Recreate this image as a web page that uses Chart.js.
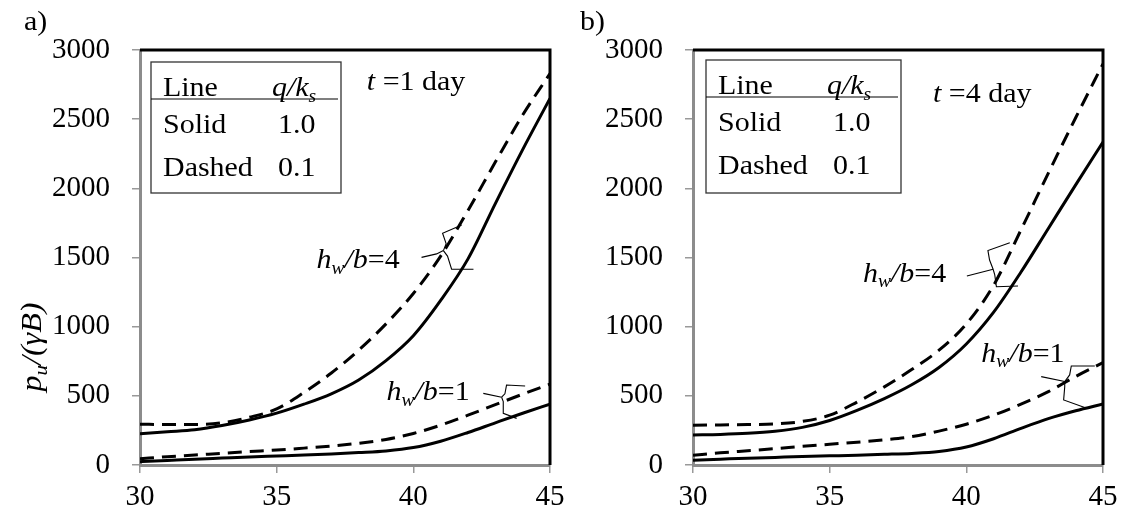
<!DOCTYPE html>
<html>
<head>
<meta charset="utf-8">
<script src="https://cdn.jsdelivr.net/npm/chart.js@4/dist/chart.umd.min.js"></script>
<style>
  html, body { margin: 0; padding: 0; background: #fff; }
  #wrap { position: relative; width: 1125px; height: 516px; overflow: hidden; }
  canvas { position: absolute; top: 0; }
  #cA { left: 0; }
  #cB { left: 562px; }
</style>
</head>
<body>
<div id="wrap">
  <canvas id="cA" width="580" height="516"></canvas>
  <canvas id="cB" width="563" height="516"></canvas>
</div>
<script>
// Shared abscissa and tick values
const xValues = [30, 31, 32, 33, 34, 35, 36, 37, 38, 39, 40, 41, 42, 43, 44, 45];
const xTicks = [30, 35, 40, 45];
const yTicks = [0, 500, 1000, 1500, 2000, 2500, 3000];

// Panel a) t = 1 day
const aSolid4  = [225, 240, 255, 285, 325, 375, 440, 515, 615, 755, 935, 1190, 1490, 1890, 2280, 2650];
const aDashed4 = [295, 292, 292, 305, 345, 405, 525, 665, 830, 1020, 1240, 1510, 1840, 2190, 2530, 2830];
const aSolid1  = [24, 33, 42, 50, 58, 65, 72, 80, 90, 102, 126, 172, 235, 305, 374, 440];
const aDashed1 = [45, 60, 72, 85, 97, 108, 122, 137, 157, 185, 228, 288, 360, 436, 512, 585];

// Panel b) t = 4 day
const bSolid4  = [217, 221, 229, 244, 272, 322, 395, 480, 580, 705, 875, 1105, 1395, 1710, 2025, 2335];
const bDashed4 = [288, 290, 292, 297, 315, 360, 455, 565, 690, 830, 1020, 1300, 1700, 2110, 2510, 2900];
const bSolid1  = [35, 42, 49, 55, 61, 66, 71, 77, 84, 98, 130, 190, 265, 335, 392, 441];
const bDashed1 = [70, 88, 103, 118, 135, 150, 165, 182, 205, 245, 295, 360, 440, 530, 640, 740];

const FONT = '"Liberation Serif", "Times New Roman", serif';
const FS = 28;      // annotation text size
const SX = 1.07;    // slight horizontal widening of annotation glyphs
const TICK_FS = 29;

function series(vals) {
  return xValues.map((x, i) => ({ x: x, y: vals[i] }));
}

function lineDs(vals, dashed) {
  return {
    data: series(vals),
    borderColor: '#000',
    borderWidth: 3,
    borderDash: dashed ? [14, 8] : [],
    pointRadius: 0,
    fill: false,
    cubicInterpolationMode: 'monotone'
  };
}

// Text runs with italic / subscript pieces, drawn from x along baseline y
function richWidth(ctx, parts, size) {
  let w = 0;
  for (const p of parts) {
    const s = p.sub ? size * 0.65 : size;
    ctx.font = (p.it ? 'italic ' : '') + s + 'px ' + FONT;
    w += ctx.measureText(p.t).width;
  }
  return w * SX;
}
function drawRich(ctx, parts, x, y, size) {
  ctx.save();
  ctx.translate(x, y);
  ctx.scale(SX, 1);
  let cx = 0;
  ctx.textAlign = 'left';
  ctx.textBaseline = 'alphabetic';
  ctx.fillStyle = '#000';
  for (const p of parts) {
    const s = p.sub ? size * 0.65 : size;
    ctx.font = (p.it ? 'italic ' : '') + s + 'px ' + FONT;
    ctx.fillText(p.t, cx, p.sub ? size * 0.2 : 0);
    cx += ctx.measureText(p.t).width;
  }
  ctx.restore();
}

function drawPath(ctx, xs, ys, pts) {
  ctx.beginPath();
  pts.forEach((p, i) => {
    const px = xs.getPixelForValue(p[0]);
    const py = ys.getPixelForValue(p[1]);
    if (i === 0) ctx.moveTo(px, py); else ctx.lineTo(px, py);
  });
  ctx.stroke();
}

const hw = (n) => [{ t: 'h', it: true }, { t: 'w', it: true, sub: true }, { t: '/b', it: true }, { t: '=' + n }];

function makePanel(canvasId, cfg) {
  const decor = {
    id: 'decor',
    afterDatasetsDraw(chart) {
      const ctx = chart.ctx;
      const a = chart.chartArea;
      const xs = chart.scales.x, ys = chart.scales.y;
      ctx.save();

      // top and right frame
      ctx.strokeStyle = '#000';
      ctx.lineWidth = 3;
      ctx.beginPath();
      ctx.moveTo(a.left, a.top);
      ctx.lineTo(a.right, a.top);
      ctx.lineTo(a.right, a.bottom);
      ctx.stroke();

      // panel letter
      drawRich(ctx, [{ t: cfg.letter }], cfg.letterX, 30, FS);

      // y axis title
      if (cfg.yTitle) {
        const parts = [{ t: 'p', it: true }, { t: 'u', it: true, sub: true }, { t: '/(\u03B3B)', it: true }];
        const ts = 30;
        const w = richWidth(ctx, parts, ts);
        ctx.save();
        ctx.translate(41, 347);
        ctx.rotate(-Math.PI / 2);
        drawRich(ctx, parts, -w / 2, 0, ts);
        ctx.restore();
      }

      // key table
      const bx = a.left + cfg.box[0], by = a.top + cfg.box[1], bw = cfg.box[2], bh = cfg.box[3];
      ctx.strokeStyle = '#333';
      ctx.lineWidth = 1.3;
      ctx.strokeRect(bx, by, bw, bh);
      ctx.strokeStyle = '#000';
      ctx.lineWidth = 1.2;
      ctx.beginPath();
      ctx.moveTo(bx, by + 37);
      ctx.lineTo(bx + bw - 3, by + 37);
      ctx.stroke();
      drawRich(ctx, [{ t: 'Line' }], bx + 12, by + 34, FS);
      drawRich(ctx, [{ t: 'q/k', it: true }, { t: 's', it: true, sub: true }], bx + 121, by + 34, FS);
      drawRich(ctx, [{ t: 'Solid' }], bx + 12, by + 71, FS);
      drawRich(ctx, [{ t: '1.0' }], bx + 127, by + 71, FS);
      drawRich(ctx, [{ t: 'Dashed' }], bx + 12, by + 114, FS);
      drawRich(ctx, [{ t: '0.1' }], bx + 127, by + 114, FS);

      // time label
      drawRich(ctx, [{ t: 't', it: true }, { t: ' =' + cfg.day + ' day' }],
        xs.getPixelForValue(cfg.timeAt[0]), ys.getPixelForValue(cfg.timeAt[1]), FS);

      // curve labels and their leader braces
      ctx.strokeStyle = '#000';
      ctx.lineWidth = 1.1;
      for (const lab of cfg.labels) {
        drawRich(ctx, hw(lab.n), xs.getPixelForValue(lab.at[0]), ys.getPixelForValue(lab.at[1]), FS);
        for (const path of lab.brace) drawPath(ctx, xs, ys, path);
      }
      ctx.restore();
    }
  };

  return new Chart(document.getElementById(canvasId), {
    type: 'line',
    data: {
      datasets: [
        lineDs(cfg.s4, false),
        lineDs(cfg.d4, true),
        lineDs(cfg.s1, false),
        lineDs(cfg.d1, true)
      ]
    },
    options: {
      responsive: false,
      animation: false,
      devicePixelRatio: 1,
      layout: { padding: { left: cfg.padLeft, right: cfg.padRight, top: 50, bottom: 0 } },
      plugins: { legend: { display: false }, tooltip: { enabled: false } },
      scales: {
        x: {
          type: 'linear',
          min: 30, max: 45,
          afterBuildTicks(s) { s.ticks = xTicks.map(v => ({ value: v })); },
          afterFit(s) { s.height = 51; s.paddingLeft = 0; s.paddingRight = 0; },
          ticks: { color: '#000', font: { family: FONT, size: TICK_FS }, padding: 7, maxRotation: 0,
                   callback: (v) => String(v) },
          grid: { drawOnChartArea: false, drawTicks: true, tickLength: 8, color: '#999', lineWidth: 1.5 },
          border: { color: '#8c8c8c', width: 3 }
        },
        y: {
          type: 'linear',
          min: 0, max: 3000,
          afterBuildTicks(s) { s.ticks = yTicks.map(v => ({ value: v })); },
          afterFit(s) { s.width = 100; s.paddingTop = 0; s.paddingBottom = 0; },
          ticks: { color: '#000', font: { family: FONT, size: TICK_FS }, padding: 22,
                   callback: (v) => String(v) },
          grid: { drawOnChartArea: false, drawTicks: true, tickLength: 8, color: '#999', lineWidth: 1.5 },
          border: { color: '#8c8c8c', width: 3 }
        }
      }
    },
    plugins: [decor]
  });
}

makePanel('cA', {
  s4: aSolid4, d4: aDashed4, s1: aSolid1, d1: aDashed1,
  padLeft: 40, padRight: 30,
  letter: 'a)', letterX: 24, yTitle: true, day: 1,
  box: [11, 12, 190, 131],
  timeAt: [38.3, 2711],
  labels: [
    { n: 4, at: [36.46, 1422], brace: [
      [[40.30, 1501], [40.85, 1526], [41.10, 1550]],
      [[41.10, 1550], [41.20, 1600], [41.07, 1675], [41.77, 1735]],
      [[41.10, 1550], [41.25, 1510], [41.40, 1415], [42.20, 1415]]
    ] },
    { n: 1, at: [39.02, 470], brace: [
      [[42.56, 518], [43.23, 490]],
      [[43.23, 490], [43.35, 515], [43.41, 578], [44.09, 571]],
      [[43.23, 490], [43.29, 458], [43.29, 374], [43.78, 337]]
    ] }
  ]
});

makePanel('cB', {
  s4: bSolid4, d4: bDashed4, s1: bSolid1, d1: bDashed1,
  padLeft: 31, padRight: 22,
  letter: 'b)', letterX: 18, yTitle: false, day: 4,
  box: [13, 10, 195, 133],
  timeAt: [38.78, 2625],
  labels: [
    { n: 4, at: [36.22, 1325], brace: [
      [[40.02, 1366], [40.98, 1415]],
      [[40.98, 1415], [40.85, 1482], [40.79, 1550], [41.59, 1607]],
      [[40.98, 1415], [41.04, 1374], [41.10, 1289], [41.89, 1294]]
    ] },
    { n: 1, at: [40.55, 747], brace: [
      [[42.74, 639], [43.60, 603]],
      [[43.60, 603], [43.78, 651], [43.84, 716], [44.70, 716]],
      [[43.60, 603], [43.60, 566], [43.56, 470], [44.33, 415]]
    ] }
  ]
});
</script>
</body>
</html>
